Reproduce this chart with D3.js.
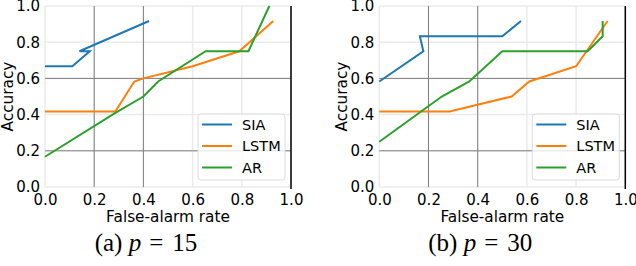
<!DOCTYPE html>
<html>
<head>
<meta charset="utf-8">
<script src="https://cdn.jsdelivr.net/npm/d3@7"></script>
<style>
  body { margin: 0; background: #fff; }
  text { font-family: "DejaVu Sans", sans-serif; fill: #000; }
</style>
</head>
<body>
<div id="chart"></div>
<script>

// tick values shared by both panels
var ticks = [0, 0.2, 0.4, 0.6, 0.8, 1.0];
var darkX = [0.2, 0.4];
var darkY = [0.2, 0.6];

var seriesNames = ["SIA", "LSTM", "AR"];
var colors = ["#1f77b4", "#ff7f0e", "#2ca02c"];

// panel (a) p = 15, [false-alarm rate, accuracy]
var siaA = [[0, 0.667], [0.111, 0.667], [0.182, 0.75], [0.14, 0.75], [0.423, 0.917]];
var lstmA = [[0, 0.417], [0.286, 0.417], [0.363, 0.583], [0.4, 0.6], [0.6, 0.667], [0.79, 0.75], [0.928, 0.917]];
var arA = [[0, 0.167], [0.286, 0.409], [0.4, 0.5], [0.46, 0.583], [0.653, 0.75], [0.827, 0.75], [0.912, 1.0]];

// panel (b) p = 30
var siaB = [[0, 0.583], [0.179, 0.75], [0.165, 0.833], [0.5, 0.833], [0.576, 0.917]];
var lstmB = [[0, 0.417], [0.286, 0.417], [0.538, 0.5], [0.61, 0.583], [0.8, 0.667], [0.928, 0.917]];
var arB = [[0, 0.25], [0.254, 0.5], [0.366, 0.583], [0.5, 0.75], [0.847, 0.75], [0.908, 0.833], [0.908, 0.917]];

var svgWidth = 636;
var svgHeight = 266;

var svg = d3.select("#chart")
  .append("svg")
  .attr("width", svgWidth)
  .attr("height", svgHeight);

var plotW = 246;
var plotH = 181;
var plotTop = 6;

function drawPanel(left, series, captionLetter, pValue) {
  var g = svg.append("g")
    .attr("transform", `translate(${left}, ${plotTop})`);

  var x = d3.scaleLinear().domain([0, 1]).range([0, plotW]);
  var y = d3.scaleLinear().domain([0, 1]).range([plotH, 0]);

  // light grid
  g.selectAll(".gx").data(ticks).enter().append("line")
    .attr("x1", d => x(d)).attr("x2", d => x(d))
    .attr("y1", 0).attr("y2", plotH)
    .attr("stroke", "#ebebeb").attr("stroke-width", 1.5);
  g.selectAll(".gy").data(ticks).enter().append("line")
    .attr("y1", d => y(d)).attr("y2", d => y(d))
    .attr("x1", 0).attr("x2", plotW)
    .attr("stroke", "#ebebeb").attr("stroke-width", 1.5);

  // darker lines
  g.selectAll(".dx").data(darkX).enter().append("line")
    .attr("x1", d => x(d)).attr("x2", d => x(d))
    .attr("y1", 0).attr("y2", plotH)
    .attr("stroke", "#808080").attr("stroke-width", 1);
  g.selectAll(".dy").data(darkY).enter().append("line")
    .attr("y1", d => y(d)).attr("y2", d => y(d))
    .attr("x1", 0).attr("x2", plotW)
    .attr("stroke", "#808080").attr("stroke-width", 1);

  // right spine
  g.append("line")
    .attr("x1", plotW).attr("x2", plotW)
    .attr("y1", 0).attr("y2", plotH + 2)
    .attr("stroke", "#000").attr("stroke-width", 1.5);

  // lines
  var line = d3.line().x(d => x(d[0])).y(d => y(d[1]));
  series.forEach(function(s, i) {
    g.append("path")
      .datum(s)
      .attr("d", line)
      .attr("fill", "none")
      .attr("stroke", colors[i])
      .attr("stroke-width", 2)
      .attr("stroke-linejoin", "miter");
  });

  // axes (labels only)
  var xAxis = g.append("g")
    .attr("transform", `translate(0, ${plotH})`)
    .call(d3.axisBottom(x).tickValues(ticks).tickFormat(d3.format(".1f")).tickSize(0).tickPadding(7));
  var yAxis = g.append("g")
    .call(d3.axisLeft(y).tickValues(ticks).tickFormat(d3.format(".1f")).tickSize(0).tickPadding(5));
  [xAxis, yAxis].forEach(function(a) {
    a.select(".domain").remove();
    a.selectAll("text")
      .style("font-family", "DejaVu Sans")
      .style("font-size", "15px")
      .attr("fill", "#000");
  });

  // axis titles
  g.append("text")
    .attr("x", plotW / 2)
    .attr("y", plotH + 35)
    .attr("text-anchor", "middle")
    .style("font-size", "15.3px")
    .text("False-alarm rate");
  g.append("text")
    .attr("transform", `translate(-32, ${plotH / 2}) rotate(-90)`)
    .attr("text-anchor", "middle")
    .style("font-size", "15.3px")
    .text("Accuracy");

  // legend
  var lg = g.append("g").attr("transform", `translate(${plotW - 93}, 108)`);
  lg.append("rect")
    .attr("width", 87).attr("height", 66)
    .attr("rx", 3)
    .attr("fill", "#fff").attr("fill-opacity", 0.8)
    .attr("stroke", "#dcdcdc").attr("stroke-width", 1);
  seriesNames.forEach(function(name, i) {
    var yy = 10.5 + i * 21.5;
    lg.append("line")
      .attr("x1", 4).attr("x2", 34)
      .attr("y1", yy).attr("y2", yy)
      .attr("stroke", colors[i]).attr("stroke-width", 2);
    lg.append("text")
      .attr("x", 44).attr("y", yy + 5)
      .style("font-size", "14.5px")
      .text(name);
  });

  // caption
  var cap = svg.append("text")
    .attr("x", left + plotW / 2 - 22)
    .attr("y", 251)
    .attr("text-anchor", "middle")
    .style("font-family", "Liberation Serif, serif")
    .style("font-size", "25px");
  cap.append("tspan").text("(" + captionLetter + ") ");
  cap.append("tspan").style("font-style", "italic").text("p");
  cap.append("tspan").attr("dx", 8).text("=");
  cap.append("tspan").attr("dx", 9).text(pValue);
}

drawPanel(45, [siaA, lstmA, arA], "a", 15);
drawPanel(379.3, [siaB, lstmB, arB], "b", 30);

</script>
</body>
</html>
